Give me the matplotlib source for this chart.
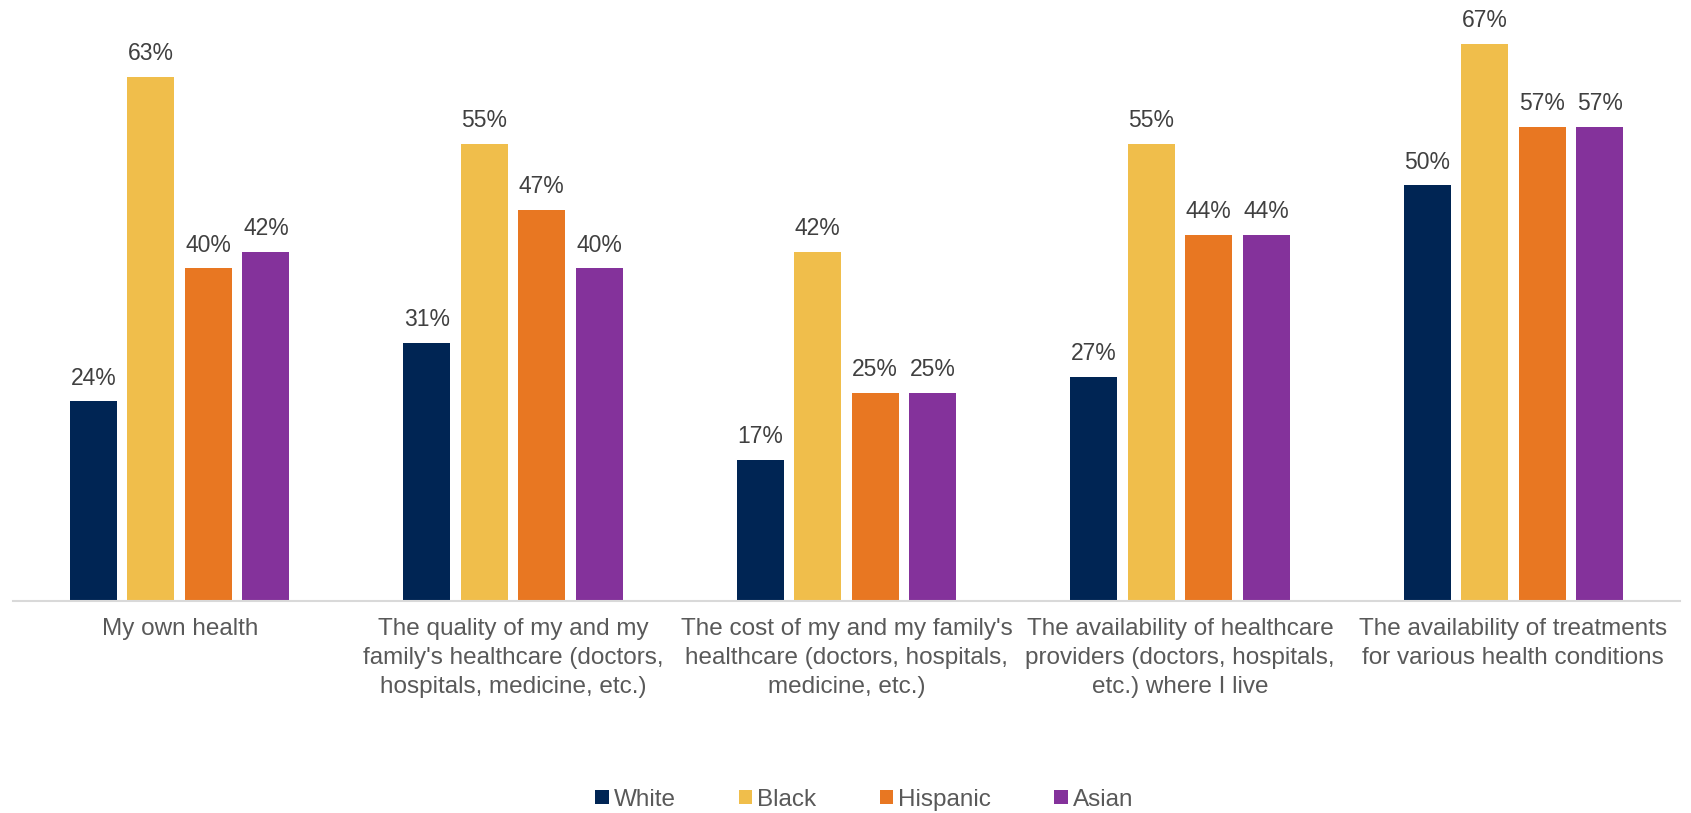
import numpy as np
import matplotlib.pyplot as plt
from matplotlib.patches import Patch

plt.rcParams['font.family'] = ['Liberation Sans', 'DejaVu Sans']

categories = [
    "My own health",
    "The quality of my and my\nfamily's healthcare (doctors,\nhospitals, medicine, etc.)",
    "The cost of my and my family's\nhealthcare (doctors, hospitals,\nmedicine, etc.)",
    "The availability of healthcare\nproviders (doctors, hospitals,\netc.) where I live",
    "The availability of treatments\nfor various health conditions",
]
groups = ['White', 'Black', 'Hispanic', 'Asian']
white = [24, 31, 17, 27, 50]
black = [63, 55, 42, 55, 67]
hispanic = [40, 47, 25, 44, 57]
asian = [42, 40, 25, 44, 57]
colors = ['#002554', '#F0BE4B', '#E87722', '#84329B']

series = [white, black, hispanic, asian]

fig = plt.figure(figsize=(16.91, 8.13), dpi=100)
ax = fig.add_axes([0.0077, 0.2608, 0.9858, 0.7392])

ind = np.arange(len(categories))
step = 0.1725
width = 0.141
for i, (vals, col) in enumerate(zip(series, colors)):
    x = ind + (i - 1.5) * step
    bars = ax.bar(x, vals, width=width, color=col, edgecolor='none', zorder=2)
    for b, v in zip(bars, vals):
        ax.annotate(f'{v}%', (b.get_x() + b.get_width() / 2, v),
                    xytext=(0, 8.5), textcoords='offset points',
                    ha='center', va='bottom', fontsize=16.5, color='#404040')

ax.set_xlim(-0.5, len(categories) - 0.5)
ax.set_ylim(0, 72.3)
ax.set_xticks(ind)
ax.set_xticklabels(categories, fontsize=17.5, color='#595959', linespacing=1.4)
ax.tick_params(axis='x', length=0, pad=12.5)
ax.set_yticks([])
for s in ['top', 'right', 'left']:
    ax.spines[s].set_visible(False)
ax.spines['bottom'].set_color('#D9D9D9')
ax.spines['bottom'].set_linewidth(1.5)
ax.spines['bottom'].set_zorder(3)

handles = [Patch(facecolor=c, edgecolor='none', label=g) for g, c in zip(groups, colors)]
fig.legend(handles=handles, loc='center', bbox_to_anchor=(0.511, 0.0165), ncol=4,
           frameon=False, fontsize=17.5, labelcolor='#595959',
           handlelength=0.56, handleheight=0.56, handletextpad=0.2,
           columnspacing=2.6, borderaxespad=0)

fig.savefig('out.png', dpi=100)
